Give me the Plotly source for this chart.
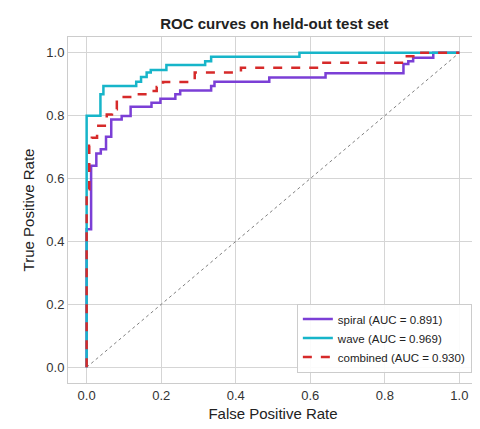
import plotly.graph_objects as go

spiral_fpr = [0, 0, 0.012, 0.012, 0.026, 0.026, 0.038, 0.038, 0.052, 0.052, 0.066, 0.066, 0.094, 0.094, 0.118, 0.118, 0.174, 0.174, 0.198, 0.198, 0.238, 0.238, 0.251, 0.251, 0.334, 0.334, 0.343, 0.343, 0.49, 0.49, 0.641, 0.641, 0.85, 0.85, 0.863, 0.863, 0.876, 0.876, 0.93, 0.93, 1.0]
spiral_tpr = [0, 0.439, 0.439, 0.641, 0.641, 0.68, 0.68, 0.693, 0.693, 0.733, 0.733, 0.788, 0.788, 0.799, 0.799, 0.828, 0.828, 0.841, 0.841, 0.854, 0.854, 0.868, 0.868, 0.880, 0.880, 0.894, 0.894, 0.908, 0.908, 0.921, 0.921, 0.935, 0.935, 0.964, 0.964, 0.973, 0.973, 0.984, 0.984, 1.0, 1.0]
wave_fpr = [0, 0, 0.037, 0.037, 0.045, 0.045, 0.133, 0.133, 0.146, 0.146, 0.161, 0.161, 0.172, 0.172, 0.214, 0.214, 0.318, 0.318, 0.334, 0.334, 0.571, 0.571, 1.0]
wave_tpr = [0, 0.8, 0.8, 0.868, 0.868, 0.894, 0.894, 0.908, 0.908, 0.923, 0.923, 0.937, 0.937, 0.945, 0.945, 0.961, 0.961, 0.973, 0.973, 0.987, 0.987, 1.0, 1.0]
comb_fpr = [0, 0, 0.007, 0.007, 0.014, 0.014, 0.028, 0.028, 0.054, 0.054, 0.068, 0.068, 0.081, 0.081, 0.094, 0.094, 0.13, 0.13, 0.165, 0.165, 0.188, 0.188, 0.205, 0.205, 0.29, 0.29, 0.414, 0.414, 0.623, 0.623, 0.85, 0.85, 0.88, 0.88, 1.0]
comb_tpr = [0, 0.566, 0.566, 0.704, 0.704, 0.73, 0.73, 0.768, 0.768, 0.804, 0.804, 0.82, 0.82, 0.852, 0.852, 0.859, 0.859, 0.868, 0.868, 0.878, 0.878, 0.891, 0.891, 0.907, 0.907, 0.937, 0.937, 0.952, 0.952, 0.968, 0.968, 0.989, 0.989, 1.0, 1.0]
ticks = [0.0, 0.2, 0.4, 0.6, 0.8, 1.0]
tick_labels = ["0.0", "0.2", "0.4", "0.6", "0.8", "1.0"]

fig = go.Figure()
fig.add_trace(go.Scatter(x=[0, 1], y=[0, 1], mode="lines", line=dict(color="gray", width=1, dash="dot"), showlegend=False))
fig.add_trace(go.Scatter(x=spiral_fpr, y=spiral_tpr, mode="lines", name="spiral (AUC = 0.891)", line=dict(color="#7b3fd6", width=2.5)))
fig.add_trace(go.Scatter(x=wave_fpr, y=wave_tpr, mode="lines", name="wave (AUC = 0.969)", line=dict(color="#17b5c9", width=2.5)))
fig.add_trace(go.Scatter(x=comb_fpr, y=comb_tpr, mode="lines", name="combined (AUC = 0.930)", line=dict(color="#d62a2a", width=2.5, dash="dash")))

axis = dict(range=[-0.05, 1.05], tickvals=ticks, ticktext=tick_labels, showgrid=True, gridcolor="#d5d5d5",
            zeroline=False, showline=True, linecolor="#cccccc", mirror=True, ticks="", tickfont=dict(size=13, color="#333"))
fig.update_layout(
    width=480, height=429, plot_bgcolor="white", paper_bgcolor="white",
    font=dict(family="Liberation Sans, Arial", color="#222"),
    margin=dict(l=60, r=10, t=29, b=54),
    title=dict(text="<b>ROC curves on held-out test set</b>", x=0.555, xanchor="center", y=0.975, font=dict(size=15)),
    xaxis=dict(axis, title=dict(text="False Positive Rate", font=dict(size=15), standoff=6)),
    yaxis=dict(axis, title=dict(text="True Positive Rate", font=dict(size=15), standoff=8)),
    legend=dict(x=0.985, y=0.03, xanchor="right", yanchor="bottom", bordercolor="#cccccc", borderwidth=1,
                bgcolor="rgba(255,255,255,0.9)", font=dict(size=11.5)),
)
fig.write_html("out.html")
